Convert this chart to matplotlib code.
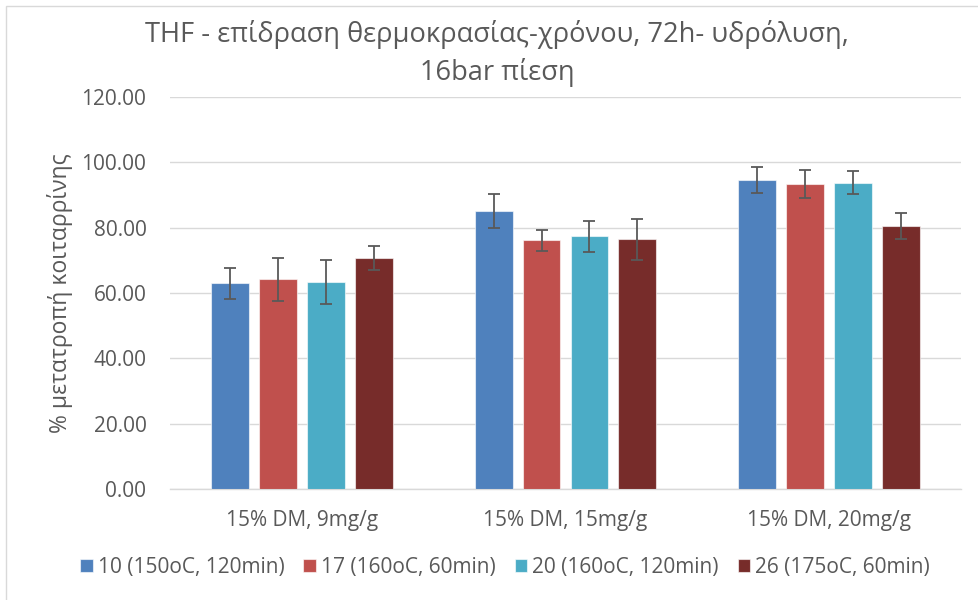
import matplotlib
matplotlib.use("Agg")
import matplotlib.pyplot as plt
from matplotlib.patches import Rectangle
import numpy as np

plt.rcParams['font.family'] = ['Open Sans', 'Noto Sans', 'DejaVu Sans']

categories = ["15% DM, 9mg/g", "15% DM, 15mg/g", "15% DM, 20mg/g"]
series_names = ["10 (150oC, 120min)", "17 (160oC, 60min)", "20 (160oC, 120min)", "26 (175oC, 60min)"]
s10 = [63.0, 85.1, 94.6]
s17 = [64.2, 76.1, 93.3]
s20 = [63.4, 77.3, 93.8]
s26 = [70.8, 76.4, 80.6]
e10 = [4.8, 5.2, 4.0]
e17 = [6.6, 3.2, 4.3]
e20 = [6.7, 4.7, 3.6]
e26 = [3.7, 6.2, 4.0]
yticks = [0, 20, 40, 60, 80, 100, 120]
colors = ["#4F81BD", "#C0504D", "#4BACC6", "#772C2A"]

values = [s10, s17, s20, s26]
errors = [e10, e17, e20, e26]

fig = plt.figure(figsize=(9.79, 6.0), dpi=100)
ax = fig.add_axes([170/979, 1-489/600, (961-170)/979, (489-97)/600])

x = np.arange(len(categories))
step = 0.182
width = 0.144
txt = "#595959"
for j, (vals, errs, c, name) in enumerate(zip(values, errors, colors, series_names)):
    pos = x + (j - 1.5) * step
    ax.bar(pos, vals, width=width, color=c, edgecolor=(1, 1, 1, 0.6), linewidth=0.8,
           label=name, zorder=3)
    ax.errorbar(pos, vals, yerr=errs, fmt='none', ecolor="#595959", elinewidth=1.3,
                capsize=4.3, capthick=1.3, zorder=4)

ax.set_xlim(-0.5, 2.5)
ax.set_ylim(0, 120)
ax.set_yticks(yticks)
ax.set_yticklabels([f"{v:.2f}" for v in yticks])
ax.set_xticks(x)
ax.set_xticklabels(categories)
ax.tick_params(axis='both', length=0, colors=txt, labelsize=15)
ax.tick_params(axis='y', pad=17)
ax.tick_params(axis='x', pad=15)
ax.grid(axis='y', color="#D9D9D9", linewidth=1.0, zorder=0)
for s in ['top', 'right', 'left']:
    ax.spines[s].set_visible(False)
ax.spines['bottom'].set_color("#D9D9D9")
ax.spines['bottom'].set_linewidth(1.0)

ax.set_ylabel("% μετατροπή κοιταρρίνης", fontsize=16.5, color=txt, labelpad=6)

fig.text(0.508, 0.911, "THF - επίδραση θερμοκρασίας-χρόνου, 72h- υδρόλυση,\n16bar πίεση",
         ha='center', va='center', fontsize=19.6, color=txt, linespacing=1.4)

leg = fig.legend(loc='center', bbox_to_anchor=(0.516, 0.054), ncol=4, frameon=False,
                 fontsize=15, handlelength=0.6, handleheight=0.6, handletextpad=0.25,
                 columnspacing=0.9, labelcolor=txt)

fig.patches.append(Rectangle((6/979, -0.05), 1.2, 1 - 6/600 + 0.05, transform=fig.transFigure,
                             fill=False, edgecolor="#D9D9D9", linewidth=1.0))

fig.savefig("out.png", dpi=100)
